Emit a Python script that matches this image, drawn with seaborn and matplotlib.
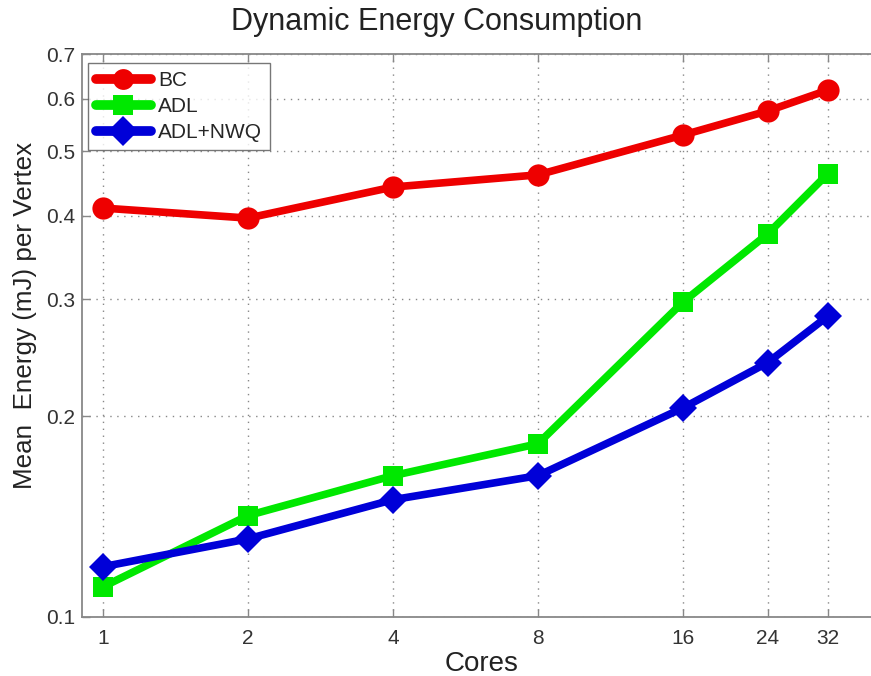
import matplotlib
matplotlib.use("Agg")
import matplotlib.pyplot as plt
import seaborn as sns
import pandas as pd
from matplotlib.ticker import FixedLocator, FixedFormatter, NullLocator

cores = [1, 2, 4, 8, 16, 24, 32]
bc = [0.411, 0.397, 0.442, 0.461, 0.529, 0.575, 0.618]
adl = [0.111, 0.142, 0.163, 0.182, 0.297, 0.376, 0.463]
adl_nwq = [0.119, 0.131, 0.150, 0.163, 0.206, 0.241, 0.283]
series_names = ["BC", "ADL", "ADL+NWQ"]
y_ticks = [0.1, 0.2, 0.3, 0.4, 0.5, 0.6, 0.7]

sns.set_theme(style="white")
plt.rcParams["font.family"] = ["Liberation Sans", "DejaVu Sans"]

fig = plt.figure(figsize=(8.71, 6.76), dpi=100)
W, H = 871, 676
ax = fig.add_axes([82 / W, (H - 617) / H, 800 / W, (617 - 54) / H])

colors = ["#ee0000", "#00e800", "#0000d8"]
markers = ["o", "s", "D"]
msizes = [16, 14, 14]
for vals, name, c, m, ms in zip([bc, adl, adl_nwq], series_names, colors, markers, msizes):
    df = pd.DataFrame({"Cores": cores, "Energy": vals})
    sns.lineplot(data=df, x="Cores", y="Energy", ax=ax, color=c, marker=m,
                 markersize=ms, markeredgewidth=0, linewidth=5.5, label=name)

ax.set_xscale("log", base=2)
ax.set_yscale("log")
ax.set_xlim(2 ** (-21 / 145), 2 ** ((882 - 103) / 145))
ax.set_ylim(0.1, 0.7)

ax.xaxis.set_major_locator(FixedLocator(cores))
ax.xaxis.set_major_formatter(FixedFormatter([str(c) for c in cores]))
ax.xaxis.set_minor_locator(NullLocator())
ax.yaxis.set_major_locator(FixedLocator(y_ticks))
ax.yaxis.set_major_formatter(FixedFormatter([f"{v:.1f}" for v in y_ticks]))
ax.yaxis.set_minor_locator(NullLocator())

ax.grid(True, which="major", linestyle=(0, (1, 4)), color="#888888", linewidth=1.0)
for s in ax.spines.values():
    s.set_color("#888888")
    s.set_linewidth(1.3)
ax.tick_params(axis="both", direction="in", length=6, width=1.0, color="#888888",
               labelsize=15, labelcolor="#333333", top=True, bottom=True, left=True)
ax.tick_params(axis="x", pad=9)
ax.tick_params(axis="y", pad=5)

ax.set_xlabel("Cores", fontsize=20, color="#222222", labelpad=2)
ax.set_ylabel("Mean  Energy (mJ) per Vertex", fontsize=18.7, color="#222222")
ax.yaxis.set_label_coords(-0.056, 0.535)
fig.text(437 / W, 1 - 22 / H, "Dynamic Energy Consumption", ha="center", va="center",
         fontsize=22, color="#222222")

leg = ax.legend(loc="upper left", bbox_to_anchor=(88 / W, 1 - 63 / H),
                bbox_transform=fig.transFigure, fontsize=15, frameon=True,
                fancybox=False, edgecolor="#555555", handlelength=2.6,
                borderaxespad=0, borderpad=0.4, labelspacing=0.33, handletextpad=0.35)
leg.get_frame().set_linewidth(1.0)
for h in leg.legend_handles:
    h.set_markersize(15)
    h.set_linewidth(7)

fig.savefig("out.png", dpi=100, facecolor="white")
